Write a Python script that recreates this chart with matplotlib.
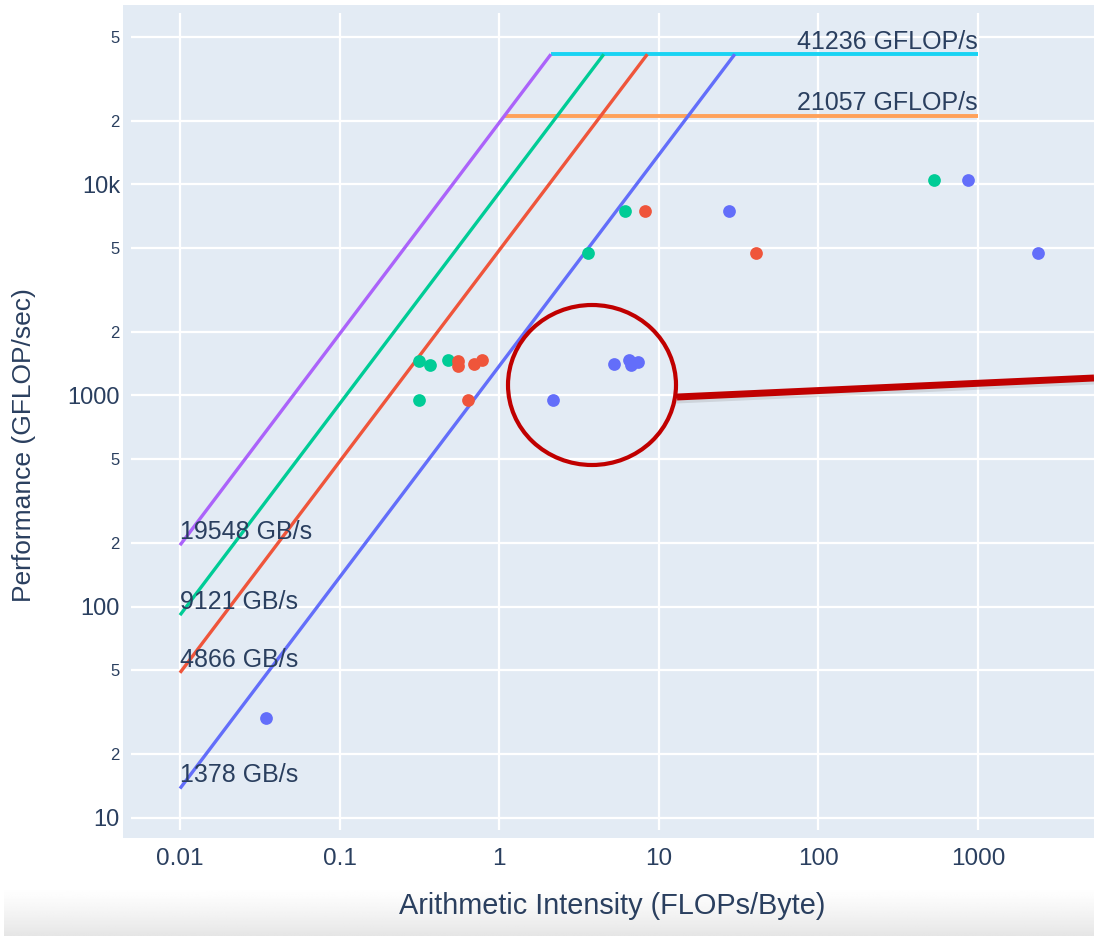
"""Roofline chart: memory/compute ceilings with measured kernels."""

import matplotlib.pyplot as plt
import numpy as np
from matplotlib.patches import Ellipse, Rectangle
from matplotlib.lines import Line2D

plt.rcParams["font.family"] = ["Liberation Sans", "DejaVu Sans"]

# ceilings
peak_flops = [41236, 21057]              # GFLOP/s
peak_flop_colors = ["#19d3f3", "#FFA15A"]
bandwidths = [19548, 9121, 4866, 1378]   # GB/s
bw_colors = ["#ab63fa", "#00cc96", "#EF553B", "#636efa"]
ai_start = 0.01
ai_end = 1000

# measured kernels (arithmetic intensity, GFLOP/s)
green_ai = [0.316, 0.37, 0.48, 0.316, 3.6, 6.15, 530]
green_perf = [1449, 1388, 1465, 947, 4700, 7430, 10480]
red_ai = [0.55, 0.555, 0.70, 0.78, 0.633, 8.2, 40.7]
red_perf = [1450, 1373, 1403, 1465, 947, 7430, 4700]
blue_ai = [0.0348, 2.18, 5.25, 6.46, 6.68, 7.39, 27.6, 865, 2372]
blue_perf = [29.8, 947, 1403, 1465, 1392, 1444, 7430, 10480, 4700]

y_major = [10, 100, 1000, 10000]
y_major_labels = ["10", "100", "1000", "10k"]
y_minor = [20, 50, 200, 500, 2000, 5000, 20000, 50000]
y_minor_labels = ["2", "5"] * 4
x_ticks = [0.01, 0.1, 1, 10, 100, 1000]
x_tick_labels = ["0.01", "0.1", "1", "10", "100", "1000"]

TXT = "#2a3f5f"
BG = "#E3EBF4"
W, H = 1094, 936

fig = plt.figure(figsize=(W / 100, H / 100), dpi=100)
fig.patch.set_facecolor("white")


def fx(px):
    return px / W


def fy(py):
    return 1 - py / H


# soft grey band at the bottom of the canvas
band = fig.add_axes([fx(4), 0, 1 - fx(4), 50 / H], zorder=-5)
t = np.linspace(0, 1, 64)
grad = (1.0 - 0.10 * t ** 1.3)[::-1][:, None] * np.ones((64, 8))
band.imshow(grad, cmap="gray", vmin=0, vmax=1, aspect="auto",
            extent=[0, 1, 0, 1], origin="lower")
band.axis("off")

# plot background slightly larger than the grid area
fig.patches.append(Rectangle((fx(123), fy(838)), fx(1094) - fx(123),
                             fy(5) - fy(838), transform=fig.transFigure,
                             facecolor=BG, edgecolor="none", zorder=-1))

ax = fig.add_axes([fx(131), fy(830), fx(1094) - fx(131), fy(13) - fy(830)])
ax.set_facecolor(BG)
ax.set_xscale("log")
ax.set_yscale("log")
ax.set_xlim(0.004933, 5325)
ax.set_ylim(8.77, 64630)
for s in ax.spines.values():
    s.set_visible(False)

ax.set_xticks(x_ticks)
ax.set_xticklabels(x_tick_labels)
ax.xaxis.set_minor_locator(plt.NullLocator())
ax.set_yticks(y_major)
ax.set_yticklabels(y_major_labels)
ax.set_yticks(y_minor, minor=True)
ax.set_yticklabels(y_minor_labels, minor=True)
ax.tick_params(axis="both", which="both", length=0, colors=TXT)
ax.tick_params(axis="x", labelsize=17.5, pad=13)
ax.tick_params(axis="y", which="major", labelsize=17, pad=8)
ax.tick_params(axis="y", which="minor", labelsize=12, pad=8)
ax.grid(True, which="major", color="white", lw=1.6)
ax.grid(True, which="minor", axis="y", color="white", lw=1.6)
ax.set_axisbelow(True)

# compute ceilings: each starts where the fastest memory line reaches it
for flops, col in zip(peak_flops, peak_flop_colors):
    ridge = flops / bandwidths[0]
    ax.plot([ridge, ai_end], [flops, flops], color=col, lw=2.8,
            solid_capstyle="butt", zorder=2)
    ax.annotate(f"{flops} GFLOP/s", (ai_end, flops), xytext=(0, 4),
                textcoords="offset points", ha="right", va="baseline",
                fontsize=18, color=TXT, zorder=4)

# memory ceilings up to the top compute roof
top = max(peak_flops)
for bw, col in zip(bandwidths, bw_colors):
    ridge = top / bw
    ax.plot([ai_start, ridge], [ai_start * bw, top], color=col, lw=2.4,
            solid_capstyle="butt", zorder=2)
    ax.annotate(f"{bw} GB/s", (ai_start, ai_start * bw), xytext=(0, 4.5),
                textcoords="offset points", ha="left", va="baseline",
                fontsize=18, color=TXT, zorder=4)

ms = 84
ax.scatter(green_ai, green_perf, s=ms, color="#00cc96", lw=0, zorder=3)
ax.scatter(red_ai, red_perf, s=ms, color="#EF553B", lw=0, zorder=3)
ax.scatter(blue_ai, blue_perf, s=ms, color="#636efa", lw=0, zorder=3)

fig.text(fx(612), fy(906), "Arithmetic Intensity (FLOPs/Byte)",
         ha="center", va="center", fontsize=20.8, color=TXT)
fig.text(fx(24), fy(445), "Performance (GFLOP/sec)", rotation=90,
         ha="center", va="center", fontsize=19, color=TXT)

# callout ring and pointer
red = "#c00000"
fig.lines.append(Line2D([fx(677), fx(1094)], [fy(400), fy(381)],
                        transform=fig.transFigure, color="#7a7a7a",
                        alpha=0.2, lw=5, zorder=5))
fig.lines.append(Line2D([fx(677), fx(1094)], [fy(397), fy(378)],
                        transform=fig.transFigure, color=red, lw=5,
                        solid_capstyle="butt", zorder=6))
fig.patches.append(Ellipse((fx(592), fy(385)), fx(168), 160 / H,
                           transform=fig.transFigure, fill=False,
                           edgecolor=red, lw=3, zorder=6))

fig.savefig("out.png", dpi=100)
